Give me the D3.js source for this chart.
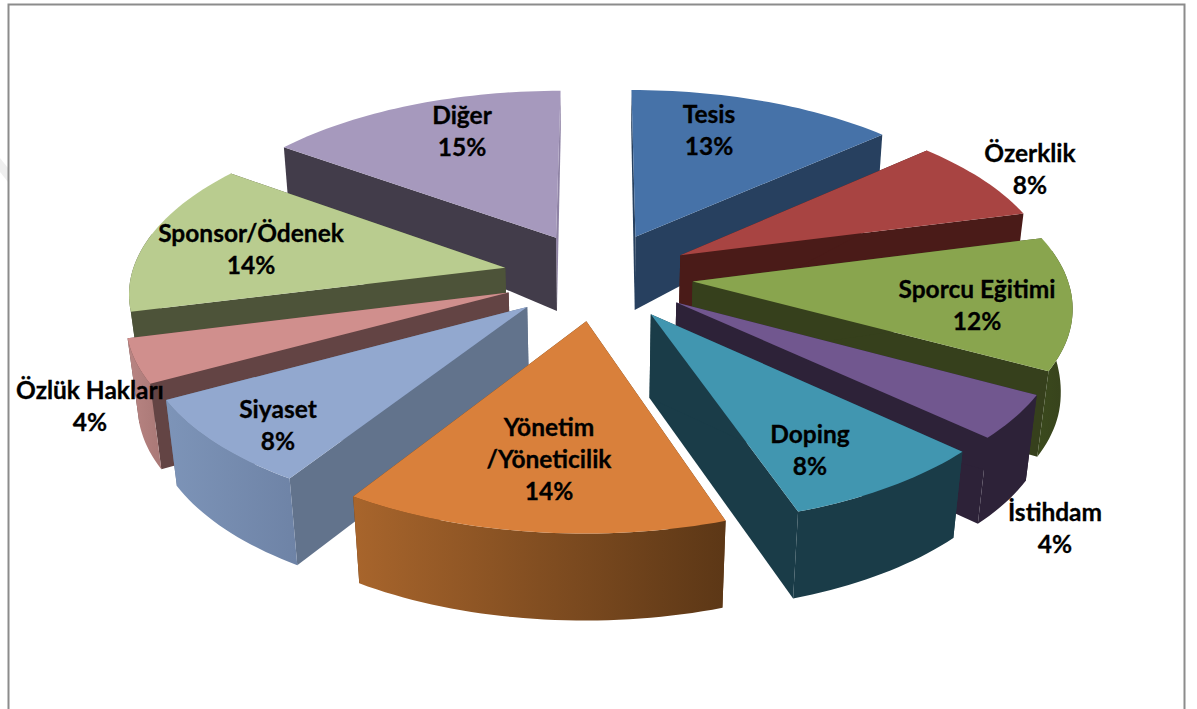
<!DOCTYPE html>
<html lang="tr">
<head>
<meta charset="utf-8">
<script src="https://cdn.jsdelivr.net/npm/d3@7"></script>
<style>
html,body{margin:0;padding:0;background:#fff;overflow:hidden}
svg{display:block}
text{font-family:Lato,"Open Sans",sans-serif;font-weight:700;font-size:24.5px;fill:#000;stroke:#000;stroke-width:.3px;text-anchor:middle;dominant-baseline:central}
</style>
</head>
<body>
<script>
const categories = ["Tesis","Özerklik","Sporcu Eğitimi","İstihdam","Doping","Yönetim","Siyaset","Özlük Hakları","Sponsor/Ödenek","Diğer"];
const values = [13.3,7.6,12.1,4,7.8,14.2,8,4,14,15];
const labelLines = [["Tesis"],["Özerklik"],["Sporcu Eğitimi"],["İstihdam"],["Doping"],["Yönetim","/Yöneticilik"],["Siyaset"],["Özlük Hakları"],["Sponsor/Ödenek"],["Diğer"]];
const topColors = ["#4672a8","#a84442","#89a54e","#71578f","#4196b0","#d9803b","#92a8cf","#d08f8d","#b9cc8f","#a699bd"];
const radialColors = ["#27405f","#4a1b18","#36401c","#2d2238","#1a3c48","#5c3716","#62738c","#634444","#4d5339","#423c4a"];
const endWallColors = ["#27405f","#4a1b18","#36401c","#2d2238","#1a3c48","#5c3716","#62738c","#634444","#4d5339","#8f83a5"];
const outerFrom = ["#27405f","#4a1b18","#3b4a1d","#2d2238","#1a3c48","#a8652c","#7d94b8","#b98583","#4d5339","#423c4a"];
const outerTo = ["#27405f","#4a1b18","#36401c","#2d2238","#1a3c48","#5c3716","#6e83a6","#a97876","#4d5339","#423c4a"];
const labelCenters = [[709,113],[1030,152],[977,288],[1055,511],[810,433],[549,426],[278,408],[90,389],[251,232],[462,114]];

const W = 1197, H = 709;
const svg = d3.select("body").append("svg").attr("width",W).attr("height",H);

// page furniture
svg.append("path").attr("d",d3.line()([[0,158],[8,168],[8,182],[0,172]])).attr("fill","#efefef");
svg.append("path").attr("d",d3.line()([[8.5,H],[8.5,4.5],[1184.5,4.5],[1184.5,H]])).attr("fill","none").attr("stroke","#8c8c8c").attr("stroke-width",2);

// projection of the tilted pie
const cx = 598, cy = 276, R = 374, explode = 95, tilt = 0.465, persp = 0.00033;
const depth = d3.scaleLinear().domain([-420,-90,100,450]).range([37,73,85,87]).clamp(true);
const converge = d3.scaleLinear().domain([-420,0]).range([0.992,0.975]).clamp(true);
function ground(a, r, mid){
  return {u: r*Math.sin(a)+explode*Math.sin(mid), v: -r*Math.cos(a)-explode*Math.cos(mid)};
}
function topPt(g){
  const s = 1/(1-persp*g.v);
  return [cx+g.u*s, cy+tilt*g.v*s];
}
function bottomPt(g){
  const p = topPt(g);
  return [cx+(p[0]-cx)*converge(g.v), p[1]+depth(g.v)];
}

const pie = d3.pie().sort(null).value(d=>d);
const arcs = pie(values).map((d,i)=>({...d,i,mid:(d.startAngle+d.endAngle)/2}));
const line = d3.line();
const defs = svg.append("defs");
arcs.forEach(d=>{
  const g = defs.append("linearGradient").attr("id","outer"+d.i);
  g.append("stop").attr("offset",0).attr("stop-color",outerFrom[d.i]);
  g.append("stop").attr("offset",1).attr("stop-color",outerTo[d.i]);
});

const order = arcs.slice().sort((a,b)=>Math.cos(b.mid)-Math.cos(a.mid));
order.forEach(d=>{
  const g = svg.append("g").attr("class","slice").attr("data-name",categories[d.i]);
  const apex = ground(d.startAngle,0,d.mid);
  const n = Math.max(2,Math.round((d.endAngle-d.startAngle)*40));
  const angles = d3.range(n+1).map(k=>d.startAngle+(d.endAngle-d.startAngle)*k/n);
  const rim = angles.map(a=>ground(a,R,d.mid));
  const first = rim[0], last = rim[n];
  g.append("path").attr("d",line([topPt(apex),topPt(last),bottomPt(last),bottomPt(apex)])+"Z").attr("fill",endWallColors[d.i]);
  g.append("path").attr("d",line([topPt(apex),topPt(first),bottomPt(first),bottomPt(apex)])+"Z").attr("fill",radialColors[d.i]);
  const facing = rim.filter((p,k)=>Math.cos(angles[k])<0.2);
  if(facing.length>1) g.append("path").attr("d",line([...facing.map(topPt),...facing.slice().reverse().map(bottomPt)])+"Z").attr("fill",`url(#outer${d.i})`);
  g.append("path").attr("d",line([topPt(apex),...rim.map(topPt)])+"Z").attr("fill",topColors[d.i]);
});

// labels
const fmt = d3.format(".0%"), total = d3.sum(values);
arcs.forEach(d=>{
  const lines = [...labelLines[d.i], fmt(values[d.i]/total)];
  const t = svg.append("text");
  lines.forEach((s,k)=>{
    t.append("tspan").attr("x",labelCenters[d.i][0]).attr("y",labelCenters[d.i][1]+k*32).text(s);
  });
});
</script>
</body>
</html>
